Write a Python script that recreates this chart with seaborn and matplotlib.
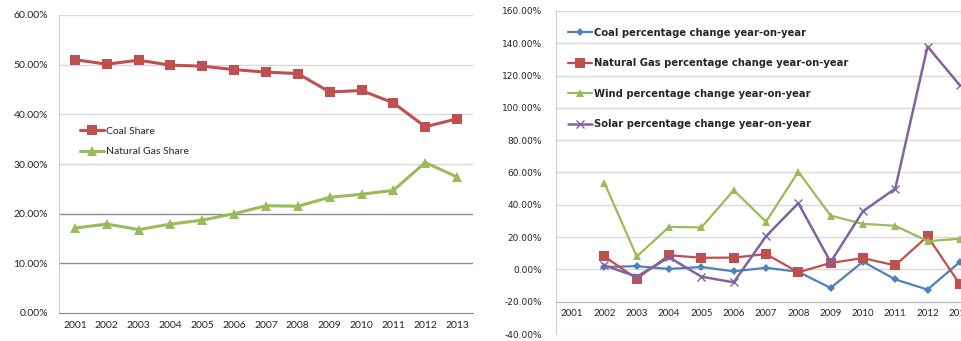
import numpy as np
import pandas as pd
import matplotlib
matplotlib.use("Agg")
import matplotlib.pyplot as plt
import seaborn as sns
from matplotlib.ticker import FuncFormatter, MultipleLocator

# data
years = [2001, 2002, 2003, 2004, 2005, 2006, 2007, 2008, 2009, 2010, 2011, 2012, 2013]
coal_share = [51.0, 50.1, 50.9, 49.9, 49.7, 49.0, 48.5, 48.2, 44.5, 44.8, 42.3, 37.5, 39.1]
gas_share = [17.1, 17.9, 16.8, 17.9, 18.7, 20.0, 21.6, 21.5, 23.3, 23.9, 24.7, 30.3, 27.4]

change_years = [2002, 2003, 2004, 2005, 2006, 2007, 2008, 2009, 2010, 2011, 2012, 2013]
coal_change = [1.5, 2.0, 0.3, 1.5, -1.2, 1.0, -1.5, -11.5, 4.8, -6.2, -12.5, 4.6]
gas_change = [8.0, -5.8, 8.8, 7.2, 7.3, 9.5, -1.8, 4.0, 7.0, 2.5, 20.5, -9.2]
wind_change = [53.5, 8.0, 26.3, 26.0, 49.0, 29.5, 60.5, 33.3, 28.2, 27.0, 17.5, 19.0]
solar_change = [2.5, -4.5, 7.5, -4.5, -8.0, 20.5, 41.0, 4.5, 36.0, 50.0, 138.0, 114.0]

red = "#C0504D"
green = "#9BBB59"
blue = "#4F81BD"
purple = "#8064A2"

sns.set_style("white")
plt.rcParams['font.family'] = ['Lato', 'DejaVu Sans']

fig = plt.figure(figsize=(9.62, 3.41), dpi=100)
pct = FuncFormatter(lambda v, p: f"{v:.2f}%")

# ---------------- left chart: shares ----------------
ax1 = fig.add_axes([59/962, 1-313/341, 414/962, 298/341])
left = pd.DataFrame({"year": years, "Coal Share": coal_share, "Natural Gas Share": gas_share})
sns.lineplot(data=left, x="year", y="Coal Share", ax=ax1, color=red, marker="s",
             markersize=7.5, linewidth=2.2, markeredgewidth=0, label="Coal Share")
sns.lineplot(data=left, x="year", y="Natural Gas Share", ax=ax1, color=green, marker="^",
             markersize=7.5, linewidth=2.2, markeredgewidth=0, label="Natural Gas Share")

ax1.set_xlim(2000.5, 2013.5)
ax1.set_ylim(0, 60)
ax1.yaxis.set_major_locator(MultipleLocator(10))
ax1.yaxis.set_major_formatter(pct)
ax1.set_xticks(years)
ax1.set_xticks(np.arange(2000.5, 2014, 1), minor=True)
ax1.tick_params(axis="x", which="major", length=0, labelsize=7.5, pad=6)
ax1.tick_params(axis="x", which="minor", length=4, color="#888888", direction="out")
ax1.tick_params(axis="y", length=0, labelsize=7.5, pad=8)
ax1.set_xlabel("")
ax1.set_ylabel("")
for v in [10, 20, 30, 40, 50, 60]:
    c = "#8a8a8a" if v in (10, 20) else "#d9d9d9"
    ax1.axhline(v, color=c, lw=1, zorder=0)
for s in ["top", "right"]:
    ax1.spines[s].set_visible(False)
ax1.spines["left"].set_color("#d0d0d0")
ax1.spines["bottom"].set_color("#888888")
ax1.legend(loc="upper left", bbox_to_anchor=(0.04, 0.64), frameon=False, fontsize=7.5,
           handlelength=2.3, handletextpad=0.2, labelspacing=1.1, borderaxespad=0)

# ---------------- right chart: year-on-year change ----------------
ax2 = fig.add_axes([556/962, 1-334/341, 420/962, 323/341])
right = pd.DataFrame({"year": change_years, "coal": coal_change, "gas": gas_change,
                      "wind": wind_change, "solar": solar_change})
sns.lineplot(data=right, x="year", y="coal", ax=ax2, color=blue, marker="D", markersize=4,
             linewidth=1.6, markeredgewidth=0, label="Coal percentage change year-on-year")
sns.lineplot(data=right, x="year", y="gas", ax=ax2, color=red, marker="s", markersize=6.5,
             linewidth=1.6, markeredgewidth=0, label="Natural Gas percentage change year-on-year")
sns.lineplot(data=right, x="year", y="wind", ax=ax2, color=green, marker="^", markersize=6,
             linewidth=1.6, markeredgewidth=0, label="Wind percentage change year-on-year")
sns.lineplot(data=right, x="year", y="solar", ax=ax2, color=purple, marker="x", markersize=6,
             linewidth=1.8, markeredgewidth=1.0, markeredgecolor=purple,
             label="Solar percentage change year-on-year")

ax2.set_xlim(2000.5, 2013.5)
ax2.set_ylim(-40, 160)
ax2.yaxis.set_major_locator(MultipleLocator(20))
ax2.yaxis.set_major_formatter(pct)
ax2.set_xticks(years)
ax2.set_xticks(np.arange(2000.5, 2014, 1), minor=True)
ax2.tick_params(axis="x", which="major", length=0, labelsize=7, pad=5)
ax2.tick_params(axis="x", which="minor", length=4, color="#999999", direction="out")
ax2.tick_params(axis="y", length=0, labelsize=6.5, pad=10)
for lab in ax2.get_xticklabels() + ax2.get_yticklabels():
    lab.set_family("DejaVu Sans")
ax2.set_xlabel("")
ax2.set_ylabel("")
for v in np.arange(-40, 161, 20):
    ax2.axhline(v, color="#d9d9d9", lw=1, zorder=0)
for s in ["top", "right"]:
    ax2.spines[s].set_visible(False)
ax2.spines["left"].set_color("#d0d0d0")
ax2.spines["bottom"].set_position(("data", -20))
ax2.spines["bottom"].set_color("#bbbbbb")
ax2.legend(loc="upper left", bbox_to_anchor=(0.02, 0.96), frameon=False,
           prop={"family": "DejaVu Sans", "size": 7.2, "weight": "bold"},
           handlelength=2.4, handletextpad=0.2, labelspacing=2.05, borderaxespad=0)

fig.savefig("out.png", dpi=100)
